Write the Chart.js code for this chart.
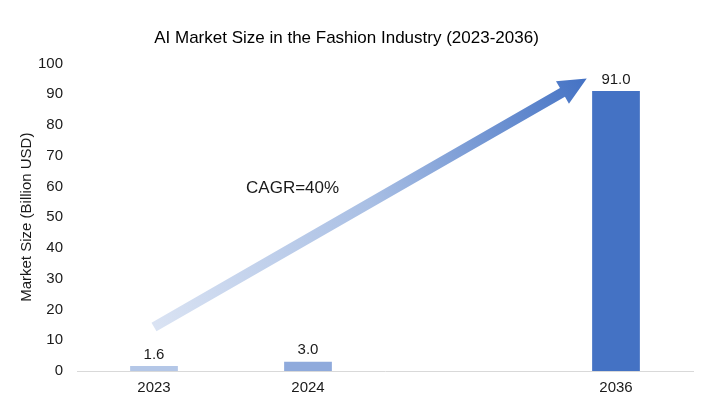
<!DOCTYPE html>
<html lang="en">
<head>
	<meta charset="UTF-8">
	<title>AI Market Size in the Fashion Industry</title>
	<script src="https://cdn.jsdelivr.net/npm/chart.js"></script>
	<style>
		html, body { margin: 0; padding: 0; background: #fff; }
		#wrap { width: 708px; height: 416px; }
	</style>
</head>
<body>
<div id="wrap"><canvas id="marketChart" width="708" height="416"></canvas></div>
<script>
	// data
	const years = ['2023', '2024', '', '2036'];
	const marketSize = [1.6, 3.0, null, 91.0];
	const barColors = ['#b4c7e7', '#8faadc', '#ffffff', '#4472c4'];
	const yMin = 0, yMax = 100, yStep = 10;

	// CAGR note + arrow, anchored in data units (x = category index, y = value)
	const cagrText = 'CAGR=40%';
	const cagrAt = { x: 0.9, y: 59.4 };
	const arrowFrom = { x: 0.0, y: 14.3 };
	const arrowTo = { x: 2.81, y: 95.1 };

	const font = 'Liberation Sans, Arial, sans-serif';
	const textColor = '#1a1a1a';

	const overlay = {
		id: 'overlay',
		afterDatasetsDraw(chart) {
			const c = chart.ctx;
			const xs = chart.scales.x, ys = chart.scales.y;

			// arrow
			const x0 = xs.getPixelForValue(arrowFrom.x), y0 = ys.getPixelForValue(arrowFrom.y);
			const x1 = xs.getPixelForValue(arrowTo.x), y1 = ys.getPixelForValue(arrowTo.y);
			const ang = Math.atan2(y1 - y0, x1 - x0);
			const len = Math.hypot(x1 - x0, y1 - y0);
			const shaft = 5, headW = 13, headL = 28;
			c.save();
			c.translate(x0, y0);
			c.rotate(ang);
			const grad = c.createLinearGradient(0, 0, len, 0);
			grad.addColorStop(0, '#dae3f3');
			grad.addColorStop(0.5, '#a9bfe4');
			grad.addColorStop(1, '#4472c4');
			c.beginPath();
			c.moveTo(0, -shaft);
			c.lineTo(len - headL, -shaft);
			c.lineTo(len - headL, -headW);
			c.lineTo(len, 0);
			c.lineTo(len - headL, headW);
			c.lineTo(len - headL, shaft);
			c.lineTo(0, shaft);
			c.closePath();
			c.fillStyle = grad;
			c.fill();
			c.restore();

			// CAGR text
			c.save();
			c.font = '17px ' + font;
			c.fillStyle = textColor;
			c.textAlign = 'center';
			c.textBaseline = 'middle';
			c.fillText(cagrText, xs.getPixelForValue(cagrAt.x), ys.getPixelForValue(cagrAt.y));
			c.restore();

			// value labels
			const meta = chart.getDatasetMeta(0);
			c.save();
			c.font = '15px ' + font;
			c.fillStyle = textColor;
			c.textAlign = 'center';
			c.textBaseline = 'bottom';
			meta.data.forEach((bar, i) => {
				const v = marketSize[i];
				if (v == null) return;
				c.fillText(v.toFixed(1), bar.x, bar.y - 4);
			});
			c.restore();
		}
	};

	new Chart(document.getElementById('marketChart'), {
		type: 'bar',
		data: {
			labels: years,
			datasets: [{
				data: marketSize,
				backgroundColor: barColors,
				barPercentage: 0.31,
				categoryPercentage: 1.0
			}]
		},
		options: {
			responsive: false,
			animation: false,
			layout: { padding: { top: 28, right: 15, bottom: 20, left: 0 } },
			plugins: {
				legend: { display: false },
				tooltip: { enabled: false },
				title: {
					display: true,
					text: 'AI Market Size in the Fashion Industry (2023-2036)',
					color: '#000',
					font: { family: font, size: 17, weight: 'normal' },
					padding: { top: 0, bottom: 15 }
				}
			},
			scales: {
				x: {
					grid: { display: false, drawTicks: false },
					border: { display: true, color: '#d9d9d9', width: 1 },
					ticks: { color: textColor, padding: 8, font: { family: font, size: 15 } },
					afterFit(s) { s.height = 25; }
				},
				y: {
					min: yMin,
					max: yMax,
					grid: { display: false, drawTicks: false },
					border: { display: false },
					ticks: { stepSize: yStep, color: textColor, padding: 14, font: { family: font, size: 15 } },
					title: {
						display: true,
						text: 'Market Size (Billion USD)',
						color: textColor,
						font: { family: font, size: 15 },
						padding: { top: 18, bottom: 0 }
					},
					afterFit(s) { s.width = 77; }
				}
			}
		},
		plugins: [overlay]
	});
</script>
</body>
</html>
